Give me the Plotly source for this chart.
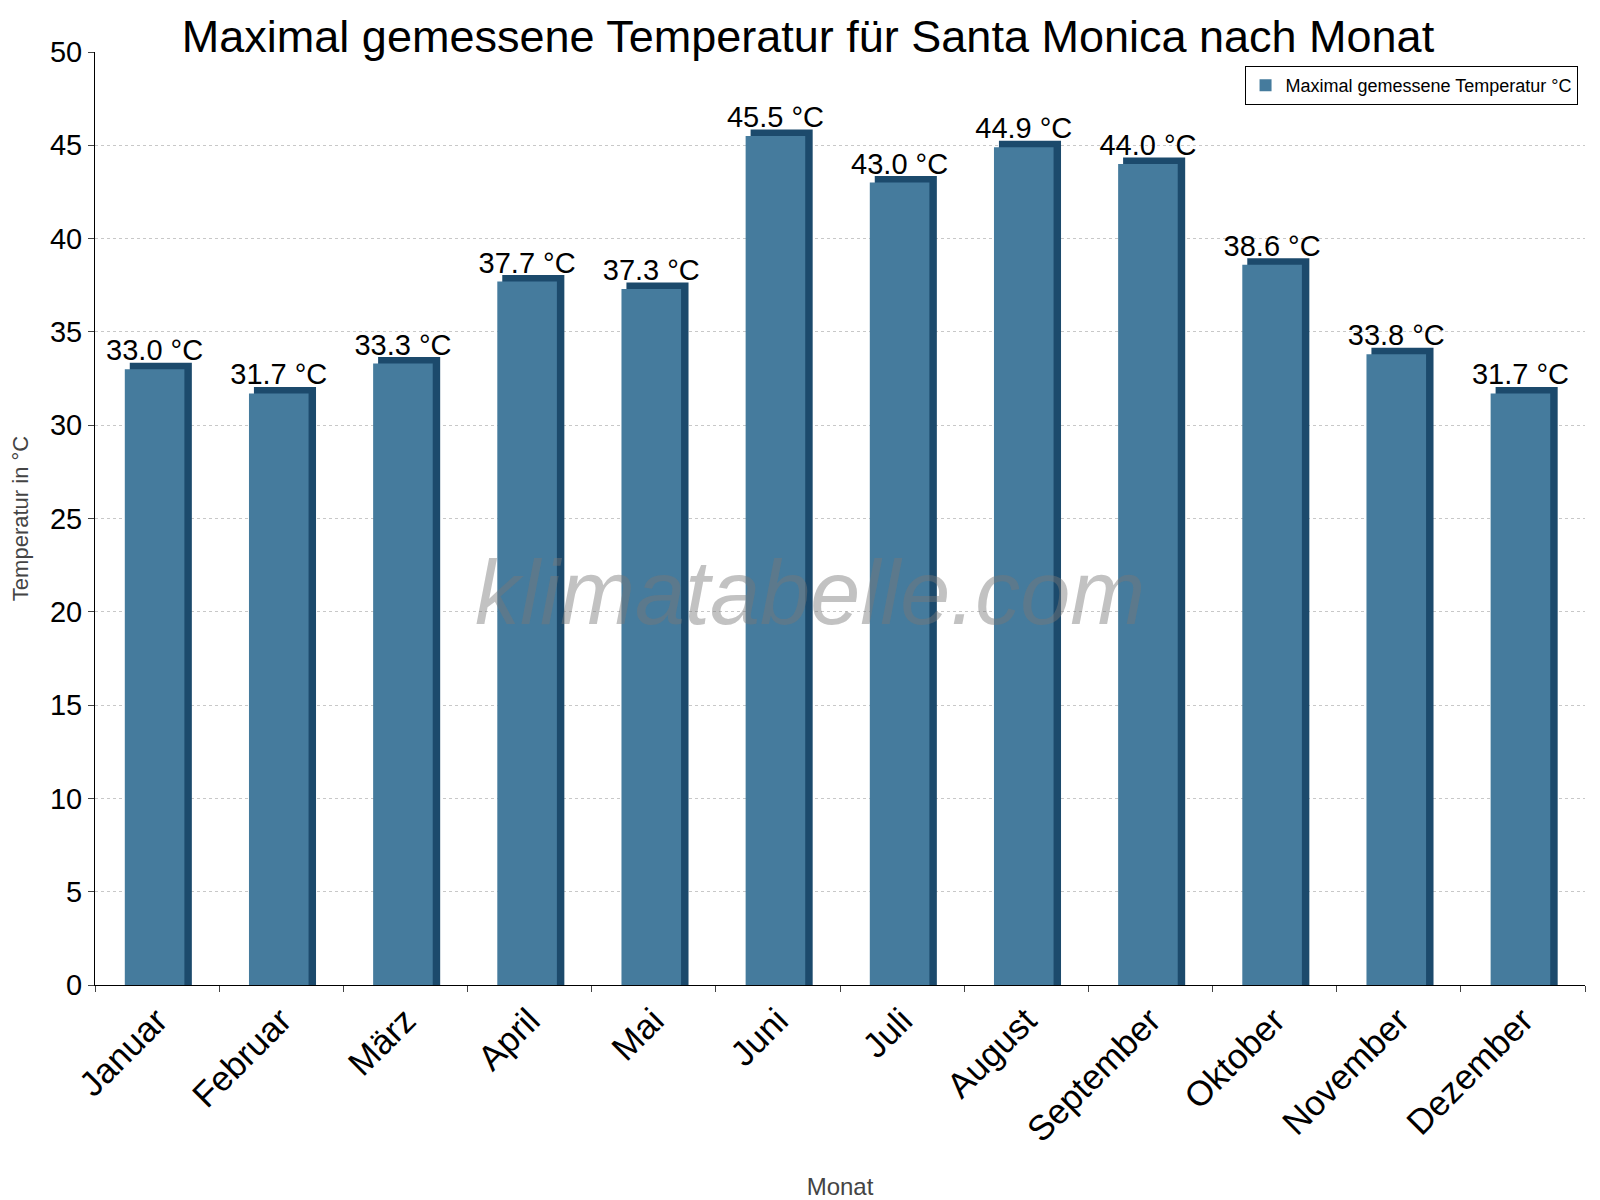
import plotly.graph_objects as go

months = ["Januar","Februar","März","April","Mai","Juni","Juli","August","September","Oktober","November","Dezember"]
temps = [33.0,31.7,33.3,37.7,37.3,45.5,43.0,44.9,44.0,38.6,33.8,31.7]
labels = [f"{v:.1f} °C" for v in temps]

fig = go.Figure()
fig.add_trace(go.Bar(x=months, y=[v+0.35 for v in temps], width=0.5, offset=-0.22,
                     marker=dict(color="#1c4a6c", line_width=0), showlegend=False, hoverinfo="skip"))
fig.add_trace(go.Bar(x=months, y=temps, width=0.48, offset=-0.26, name="Maximal gemessene Temperatur °C",
                     marker=dict(color="#457b9d", line_width=0),
                     text=labels, textposition="outside", cliponaxis=False, constraintext="none",
                     textfont=dict(size=29, color="black")))
fig.update_layout(
    width=1600, height=1200, barmode="overlay", bargap=0.5,
    plot_bgcolor="white", paper_bgcolor="white",
    font=dict(family="Liberation Sans, Arial", color="black"),
    title=dict(text="Maximal gemessene Temperatur für Santa Monica nach Monat", x=0.5, y=0.99,
               yanchor="top", font=dict(size=45)),
    margin=dict(l=68, r=23, t=44, b=213),
    legend=dict(x=0.995, y=0.985, xanchor="right", yanchor="top", bordercolor="black", borderwidth=1,
                font=dict(size=18), bgcolor="white"),
    xaxis=dict(title=dict(text="Monat", font=dict(size=24, color="#444"), standoff=30),
               tickangle=-45, tickfont=dict(size=35), tickson="boundaries", ticks="outside",
               ticklen=6, showline=True, linecolor="black"),
    yaxis=dict(title=dict(text="Temperatur in °C", font=dict(size=22, color="#444")),
               range=[0,50], dtick=5, tickfont=dict(size=29), ticks="outside", ticklen=6,
               showline=True, linecolor="black", gridcolor="#c8c8c8", griddash="dot"),
    annotations=[dict(text="<i>klimatabelle.com</i>", xref="paper", yref="paper", x=0.48, y=0.42,
                      showarrow=False, font=dict(size=90, color="rgba(120,120,120,0.45)"))],
)
fig.write_html("out.html")
